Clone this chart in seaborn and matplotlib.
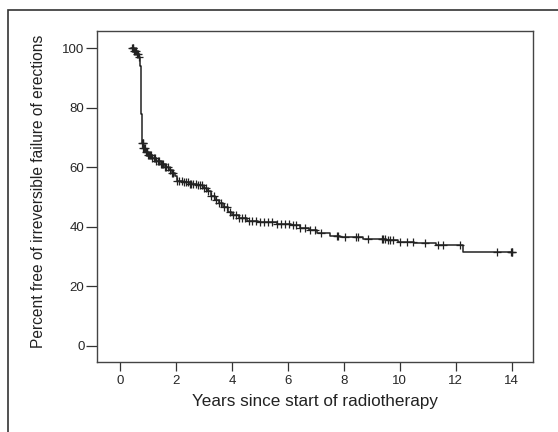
import numpy as np
import pandas as pd
import matplotlib
matplotlib.use('Agg')
import matplotlib.pyplot as plt
from matplotlib.patches import Rectangle
import seaborn as sns

# Kaplan-Meier step points (years, percent free)
step_years = [0.40, 0.50, 0.60, 0.68, 0.72, 0.74, 0.75, 0.76, 0.77, 0.78, 0.79, 0.80,
              0.83, 0.90, 1.00, 1.15, 1.30, 1.45, 1.60, 1.75, 1.85, 1.95, 2.05, 2.25,
              2.50, 2.75, 2.95, 3.10, 3.25, 3.40, 3.55, 3.70, 3.85, 4.00, 4.25, 4.55,
              4.95, 5.60, 6.10, 6.45, 6.75, 7.05, 7.50, 7.85, 8.70, 9.50, 9.95, 10.50,
              11.30, 12.25, 14.00]
step_pct = [100, 99, 98, 97, 94, 90, 86, 82, 78, 74, 70, 68,
            66.5, 65, 64, 63, 62, 61, 60, 59, 58, 57, 55.5, 55,
            54.5, 54, 53, 52, 50.5, 49, 48, 46.5, 45, 44, 43, 42,
            41.5, 41, 40.5, 39.5, 39, 38, 37, 36.5, 36, 35.5, 35, 34.5,
            34, 31.5, 31.5]

# censored observations (years)
censor_years = [0.42, 0.45, 0.48, 0.50, 0.53, 0.57, 0.60, 0.64, 0.68,
                0.80, 0.81, 0.82, 0.84, 0.86, 0.88,
                0.92, 0.95, 0.98, 1.02, 1.05, 1.08, 1.12, 1.15, 1.20, 1.25, 1.30,
                1.35, 1.40, 1.45, 1.50, 1.55, 1.60, 1.65, 1.72, 1.78, 1.85, 1.90,
                2.05, 2.12, 2.20, 2.28, 2.35, 2.42, 2.50, 2.55, 2.62, 2.70, 2.78,
                2.85, 2.92, 3.00, 3.08, 3.15, 3.25, 3.35, 3.45, 3.55, 3.62, 3.72,
                3.82, 3.92, 4.05, 4.15, 4.25, 4.35, 4.48, 4.60, 4.72, 4.85, 5.00,
                5.15, 5.30, 5.45, 5.60, 5.75, 5.90, 6.05, 6.20, 6.30, 6.45, 6.60,
                6.79, 6.96, 7.20, 7.74, 7.80, 8.04, 8.45, 8.50, 8.86, 9.35, 9.40,
                9.46, 9.58, 9.64, 9.76, 10.00, 10.24, 10.47, 10.89, 11.37, 11.55,
                12.14, 13.47, 13.98, 14.00, 14.02]

x_ticks = [0, 2, 4, 6, 8, 10, 12, 14]
y_ticks = [0, 20, 40, 60, 80, 100]

curve = pd.DataFrame({'years': step_years, 'pct': step_pct})
idx = np.searchsorted(step_years, censor_years, side='right') - 1
censors = pd.DataFrame({'years': censor_years, 'pct': np.array(step_pct)[idx]})

sns.set_style('ticks')
plt.rcParams['font.family'] = ['Liberation Sans', 'DejaVu Sans']

ink = '#222222'
fig = plt.figure(figsize=(5.58, 4.32), dpi=100)
ax = fig.add_axes([0.1738, 0.162, 0.781, 0.766])

sns.lineplot(data=curve, x='years', y='pct', drawstyle='steps-post',
             color=ink, linewidth=1.1, ax=ax)
sns.scatterplot(data=censors, x='years', y='pct', marker='+', s=40,
                color=ink, linewidth=0.9, ax=ax, zorder=3)

ax.set_xlim(-0.82, 14.75)
ax.set_ylim(-5.4, 105.7)
ax.set_xticks(x_ticks)
ax.set_yticks(y_ticks)
ax.tick_params(axis='x', length=6.5, width=0.9, color='#333333', labelsize=9.5, pad=3)
ax.tick_params(axis='y', length=8, width=0.9, color='#333333', labelsize=9.5, pad=1)
for sp in ax.spines.values():
    sp.set_color('#444444')
    sp.set_linewidth(1.0)
ax.set_xlabel('Years since start of radiotherapy', fontsize=12.3, color=ink, labelpad=5)
ax.set_ylabel('Percent free of irreversible failure of erections', fontsize=11.2,
              color=ink, labelpad=4)
ax.yaxis.set_label_coords(-0.118, 0.515)

fig.patches.append(Rectangle((8 / 558, -0.2), 1.2, 0.2 + 1 - 10 / 432,
                             transform=fig.transFigure, fill=False,
                             edgecolor='#333333', linewidth=1.2))

fig.savefig('out.png', dpi=100)
